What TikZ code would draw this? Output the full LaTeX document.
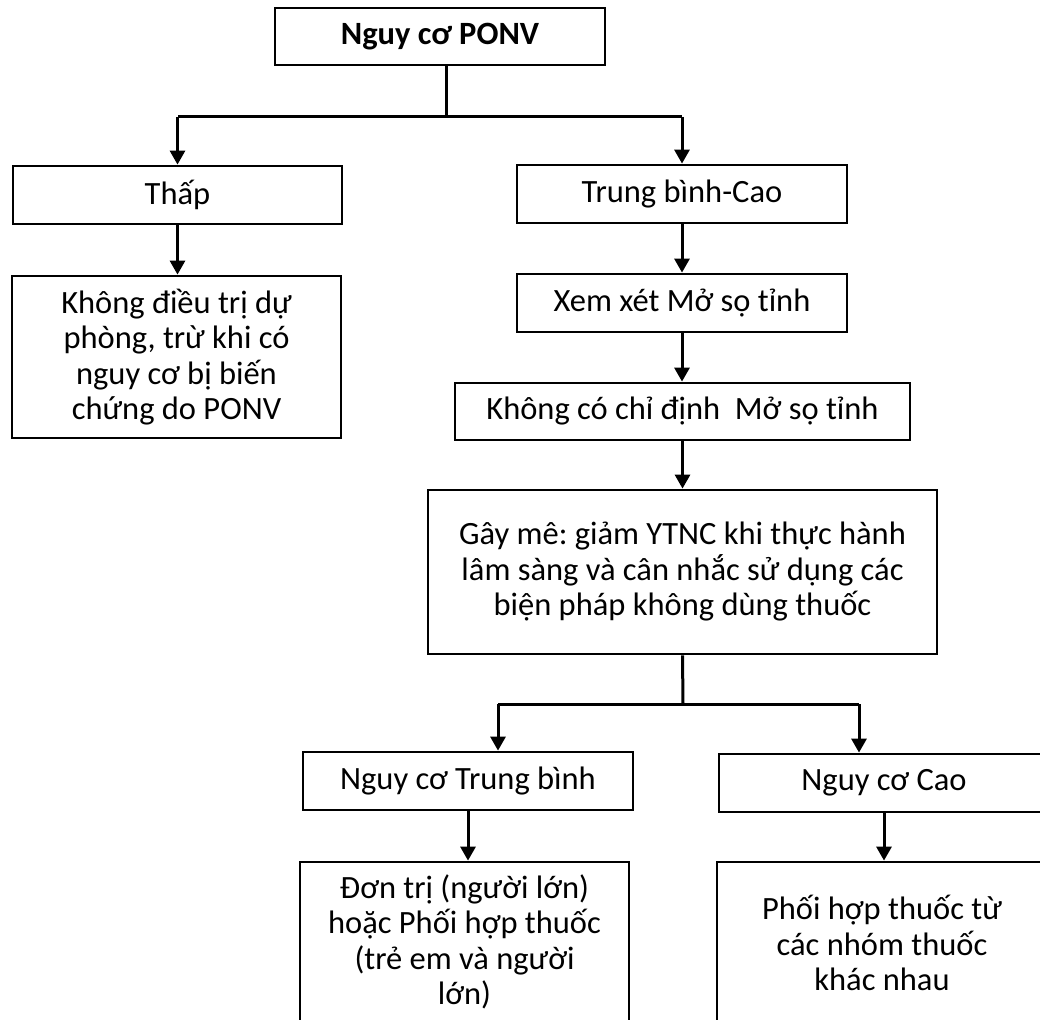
\documentclass[tikz,border=0pt]{standalone}
\usepackage{fontspec}
\setmainfont{Carlito}
\usetikzlibrary{arrows.meta,calc}
\begin{document}
\frenchspacing
\begin{tikzpicture}[x=1pt,y=-1pt,
  box/.style={draw,line width=2.8pt,rectangle,inner sep=0pt,align=center,
    font=\fontsize{32.5}{35.5}\selectfont},
  conn/.style={line width=3pt},
  arr/.style={line width=3pt,-{Triangle[length=14pt,width=15pt]}}]
\path[use as bounding box,clip] (0,0) rectangle (1040,1019);
\fill[white] (0,0) rectangle (1040,1019);
\node[box,minimum width=330pt,minimum height=57pt,font=\fontsize{32.5}{35.5}\selectfont\bfseries] (top) at (440,36.5) {Nguy cơ PONV};
\node[box,minimum width=329pt,minimum height=58pt] (thap) at (177.5,195) {Thấp};
\node[box,minimum width=329pt,minimum height=162pt] (khong) at (176.5,357) {Không điều trị dự\\phòng, trừ khi có\\nguy cơ bị biến\\chứng do PONV};
\node[box,minimum width=330pt,minimum height=58pt] (tbc) at (682,194) {Trung bình-Cao};
\node[box,minimum width=330pt,minimum height=58pt] (xem) at (682,303) {Xem xét Mở sọ tỉnh};
\node[box,minimum width=455pt,minimum height=57pt] (kcd) at (682.5,411.5) {Không có chỉ định\ \ Mở sọ tỉnh};
\node[box,minimum width=509pt,minimum height=164pt] (gay) at (682.5,572) {Gây mê: giảm YTNC khi thực hành\\lâm sàng và cân nhắc sử dụng các\\biện pháp không dùng thuốc};
\node[box,minimum width=330pt,minimum height=58pt] (ntb) at (468,781) {Nguy cơ Trung bình};
\node[box,minimum width=330pt,minimum height=58pt] (nc) at (884,783) {Nguy cơ Cao};
\node[box,minimum width=329pt,minimum height=160pt] (dt) at (464.5,942) {Đơn trị (người lớn)\\hoặc Phối hợp thuốc\\(trẻ em và người\\lớn)};
\node[box,minimum width=330pt,minimum height=162pt] (ph) at (882,943) {Phối hợp thuốc từ\\các nhóm thuốc\\khác nhau};
% first split
\coordinate (j1) at (446,117);
\draw[conn] (top.south -| j1) -- (j1);
\draw[conn] (j1) -- (j1 -| thap.north);
\draw[conn] (j1) -- (j1 -| tbc.north);
\draw[arr] (j1 -| thap.north) -- (thap.north);
\draw[arr] (j1 -| tbc.north) -- (tbc.north);
% left branch
\draw[arr] (thap.south) -- (thap.south |- khong.north);
% right chain
\draw[arr] (tbc.south) -- (xem.north);
\draw[arr] (xem.south) -- (xem.south |- kcd.north);
\draw[arr] (kcd.south) -- (gay.north);
% second split
\coordinate (j2) at (683,704);
\coordinate (a1) at (498,704);
\coordinate (a2) at (859,704);
\draw[conn] (gay.south) -- (j2);
\draw[conn] (a1) -- (a2);
\draw[arr] (a1) -- (a1 |- ntb.north);
\draw[arr] (a2) -- (a2 |- nc.north);
\draw[arr] (ntb.south) -- (ntb.south |- dt.north);
\draw[arr] (nc.south) -- (nc.south |- ph.north);
\end{tikzpicture}
\end{document}
